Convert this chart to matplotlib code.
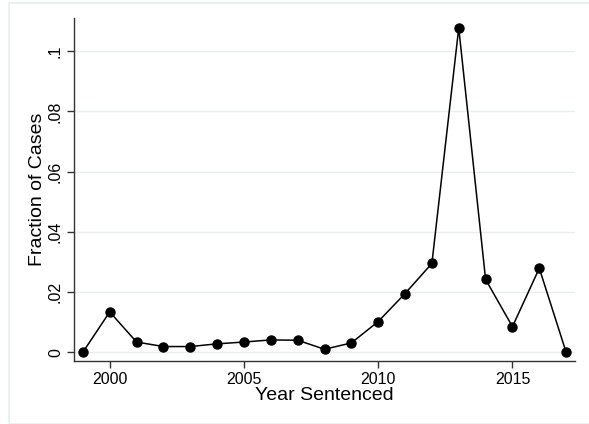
import matplotlib
matplotlib.use("Agg")
import matplotlib.pyplot as plt
from matplotlib.patches import Rectangle

years = [1999, 2000, 2001, 2002, 2003, 2004, 2005, 2006, 2007, 2008,
         2009, 2010, 2011, 2012, 2013, 2014, 2015, 2016, 2017]
fraction = [0.0, 0.0134, 0.0034, 0.0019, 0.0019, 0.0028, 0.0034, 0.0041, 0.0040, 0.0010,
            0.0031, 0.0102, 0.0195, 0.0295, 0.1077, 0.0242, 0.0085, 0.0279, 0.0]
xticks = [2000, 2005, 2010, 2015]
yticks = [0, 0.02, 0.04, 0.06, 0.08, 0.1]
ytick_labels = ["0", ".02", ".04", ".06", ".08", ".1"]

plt.rcParams['font.family'] = ['Liberation Sans', 'DejaVu Sans']

W, H = 589, 424
fig = plt.figure(figsize=(W / 100, H / 100), dpi=100)
fig.patch.set_facecolor('white')

# faint outer frame
fig.patches.append(Rectangle((9 / W, 0), 1.0, 1 - 3 / H, transform=fig.transFigure,
                             fill=False, edgecolor='#e8eef0', linewidth=1.2, zorder=0))

left, right, top, bottom = 74, 575, 18, 361
ax = fig.add_axes([left / W, 1 - bottom / H, (right - left) / W, (bottom - top) / H])

ax.plot(years, fraction, color='black', linewidth=1.1, marker='o', markersize=6.5,
        markerfacecolor='black', markeredgecolor='black', zorder=3, clip_on=False)

ax.set_xlim(1998.67, 2017.33)
ax.set_ylim(-0.0029, 0.111)
ax.set_xticks(xticks)
ax.set_yticks(yticks)
ax.set_yticklabels(ytick_labels, rotation=90, va='center')
ax.grid(axis='y', color='#e6eef0', linewidth=1.0)
ax.set_axisbelow(True)

for s in ['top', 'right']:
    ax.spines[s].set_visible(False)
for s in ['left', 'bottom']:
    ax.spines[s].set_color('#333333')
    ax.spines[s].set_linewidth(1.0)

ax.tick_params(axis='both', labelsize=11.5, color='#333333', length=5, width=1.0, pad=3)
ax.set_xlabel('Year Sentenced', fontsize=14, labelpad=0)
ax.set_ylabel('Fraction of Cases', fontsize=14, labelpad=1)

fig.savefig('out.png', dpi=100)
